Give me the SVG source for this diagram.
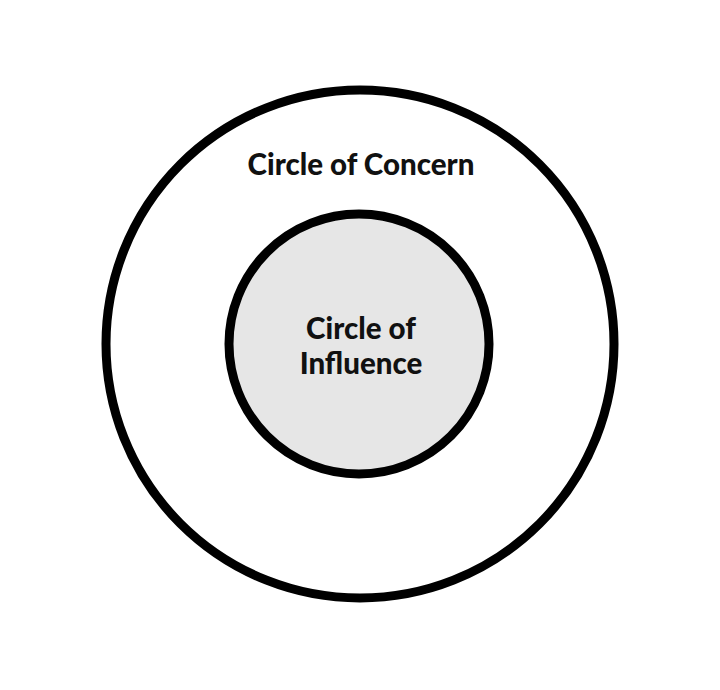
<svg xmlns="http://www.w3.org/2000/svg" width="720" height="690" viewBox="0 0 720 690">
<style>
.ring{stroke:#000;stroke-width:9}
.lbl{font-family:Lato,"Open Sans","Liberation Sans",sans-serif;font-weight:900;font-size:29.5px;fill:#111;text-anchor:middle}
</style>
<rect width="720" height="690" fill="#fff"/>
<g id="concern">
<circle class="ring" cx="360" cy="344" r="254" fill="#fff"/>
<text class="lbl" x="361" y="175">Circle of Concern</text>
</g>
<g id="influence">
<circle class="ring" cx="359" cy="344" r="130" fill="#e6e6e6"/>
<text class="lbl" x="361" y="339">Circle of</text>
<text class="lbl" x="361" y="374">Influence</text>
</g>
<g id="connectors"/>
</svg>
